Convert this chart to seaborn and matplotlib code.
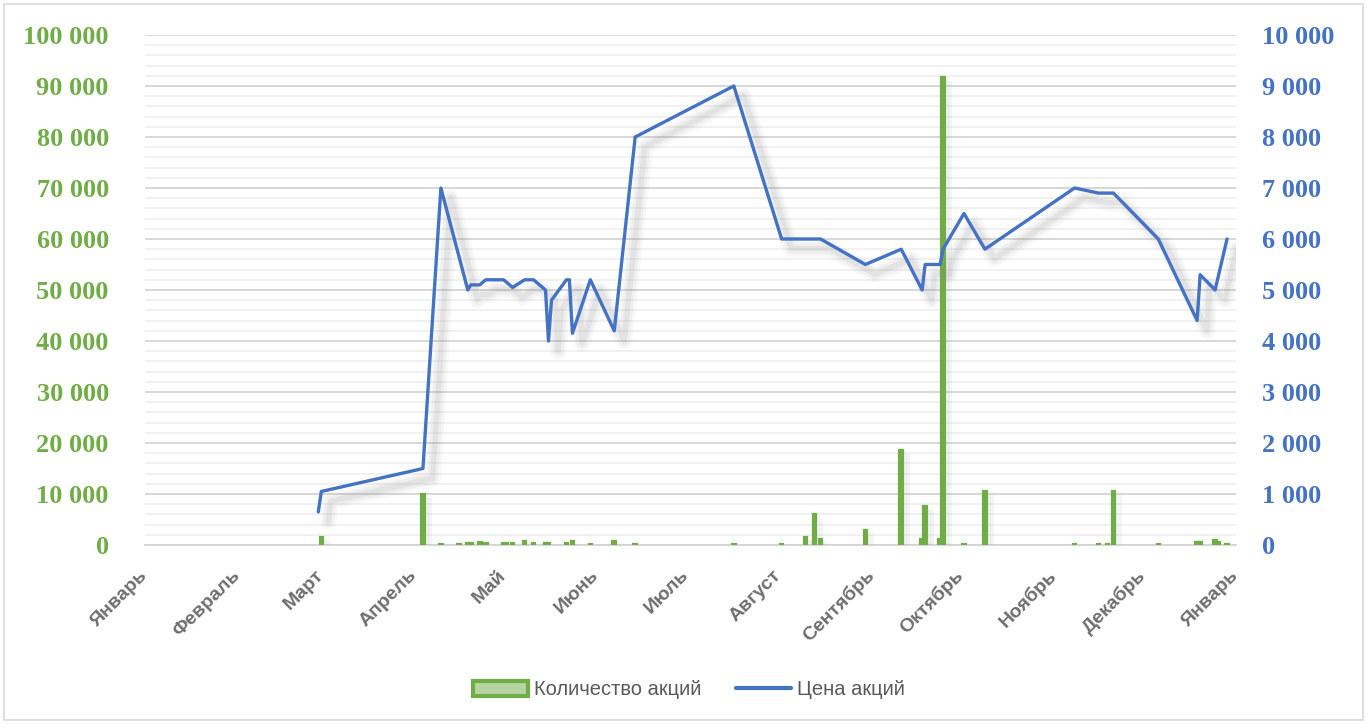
import numpy as np
import pandas as pd
import seaborn as sns
import matplotlib.pyplot as plt
import matplotlib.patheffects as pe
from matplotlib.ticker import MultipleLocator, FuncFormatter
from matplotlib.patches import Rectangle
from matplotlib.lines import Line2D

# Цена акций (правая ось)
price_dates = ['2021-02-28', '2021-03-01', '2021-04-04', '2021-04-10', '2021-04-19', '2021-04-20',
               '2021-04-23', '2021-04-25', '2021-05-01', '2021-05-04', '2021-05-08', '2021-05-11',
               '2021-05-15', '2021-05-16', '2021-05-17', '2021-05-22', '2021-05-23', '2021-05-24',
               '2021-05-30', '2021-06-07', '2021-06-14', '2021-07-17', '2021-08-02', '2021-08-15',
               '2021-08-30', '2021-09-11', '2021-09-18', '2021-09-19', '2021-09-24', '2021-09-25',
               '2021-10-02', '2021-10-09', '2021-11-08', '2021-11-16', '2021-11-21', '2021-12-06',
               '2021-12-19', '2021-12-20', '2021-12-25', '2021-12-29']
price_values = [650, 1050, 1500, 7000, 5000, 5100,
                5100, 5200, 5200, 5050, 5200, 5200,
                5000, 4000, 4800, 5200, 5200, 4150,
                5200, 4200, 8000, 9000, 6000, 6000,
                5500, 5800, 5000, 5500, 5500, 5800,
                6500, 5800, 7000, 6900, 6900, 6000,
                4400, 5300, 5000, 6000]

# Количество акций (левая ось)
qty_dates = ['2021-03-01', '2021-04-04', '2021-04-10', '2021-04-16', '2021-04-19', '2021-04-20',
             '2021-04-23', '2021-04-25', '2021-05-01', '2021-05-02', '2021-05-04', '2021-05-08',
             '2021-05-11', '2021-05-15', '2021-05-16', '2021-05-22', '2021-05-24', '2021-05-30',
             '2021-06-07', '2021-06-14', '2021-07-17', '2021-08-02', '2021-08-10', '2021-08-13',
             '2021-08-15', '2021-08-30', '2021-09-11', '2021-09-18', '2021-09-19', '2021-09-24',
             '2021-09-25', '2021-10-02', '2021-10-09', '2021-11-08', '2021-11-16', '2021-11-19',
             '2021-11-21', '2021-12-06', '2021-12-19', '2021-12-20', '2021-12-25', '2021-12-26',
             '2021-12-29']
qty_values = [1600, 10000, 200, 200, 300, 400,
              500, 300, 400, 300, 300, 800,
              300, 400, 300, 300, 800, 200,
              800, 200, 200, 200, 1600, 6000,
              1200, 3000, 18600, 1200, 7700, 1200,
              91700, 200, 10600, 200, 200, 200,
              10600, 200, 500, 500, 1000, 600,
              200]

month_labels = ['Январь', 'Февраль', 'Март', 'Апрель', 'Май', 'Июнь', 'Июль',
                'Август', 'Сентябрь', 'Октябрь', 'Ноябрь', 'Декабрь', 'Январь']

green = '#70AD47'
blue = '#4472C4'
grey_text = '#6f6f6f'

price_df = pd.DataFrame({'date': pd.to_datetime(price_dates), 'price': price_values})
qty_df = pd.DataFrame({'date': pd.to_datetime(qty_dates), 'qty': qty_values})

sns.set_style('white')
fig = plt.figure(figsize=(13.7, 7.24), dpi=100)
ax = fig.add_axes([0.1058, 0.2472, 0.7964, 0.7045])

# bars with a soft shadow
bars = ax.bar(qty_df['date'], qty_df['qty'], width=1.2, color=green, edgecolor=green,
              linewidth=1.6, zorder=3)
for b in bars:
    b.set_path_effects([pe.SimplePatchShadow(offset=(5, -3), shadow_rgbFace='#9a9a9a', alpha=0.10),
                        pe.SimplePatchShadow(offset=(3, -2), shadow_rgbFace='#9a9a9a', alpha=0.10),
                        pe.Normal()])

ax.set_ylim(0, 100000)
ax.yaxis.set_major_locator(MultipleLocator(10000))
ax.yaxis.set_minor_locator(MultipleLocator(2000))
ax.yaxis.set_major_formatter(FuncFormatter(lambda v, p: f'{v:,.0f}'.replace(',', ' ')))
ax.grid(axis='y', which='major', color='#d4d4d4', linewidth=1.3)
ax.grid(axis='y', which='minor', color='#ededed', linewidth=1.1)
ax.set_axisbelow(True)

ax.set_xlim(pd.Timestamp('2021-01-01'), pd.Timestamp('2022-01-01'))
month_ticks = pd.date_range('2021-01-01', '2022-01-01', freq='MS')
ax.set_xticks(month_ticks)
ax.set_xticklabels(month_labels, rotation=45, ha='right', va='center', rotation_mode='anchor',
                   color=grey_text, fontweight='bold', fontsize=14, family='Liberation Sans')
ax.tick_params(axis='x', direction='out', length=8, width=1.3, color='#d4d4d4', pad=12)
ax.tick_params(axis='y', which='both', length=0, pad=26)
for lab in ax.get_yticklabels():
    lab.set_color(green)
    lab.set_fontweight('bold')
    lab.set_fontsize(19)
    lab.set_family('Liberation Serif')

for s in ['top', 'right', 'left']:
    ax.spines[s].set_visible(False)
ax.spines['bottom'].set_color('#d4d4d4')
ax.spines['bottom'].set_linewidth(1.3)
ax.spines['bottom'].set_zorder(2)

# price line on the secondary axis, with a blurred-looking drop shadow
shadow = [pe.SimpleLineShadow(offset=(7, -7), shadow_color='#808080', alpha=0.05, linewidth=12),
          pe.SimpleLineShadow(offset=(7, -7), shadow_color='#808080', alpha=0.07, linewidth=8),
          pe.SimpleLineShadow(offset=(7, -7), shadow_color='#808080', alpha=0.10, linewidth=4),
          pe.Normal()]
ax2 = ax.twinx()
sns.lineplot(data=price_df, x='date', y='price', ax=ax2, color=blue, linewidth=2.4,
             legend=False, path_effects=shadow)
ax2.set_ylim(0, 10000)
ax2.yaxis.set_major_locator(MultipleLocator(1000))
ax2.yaxis.set_major_formatter(FuncFormatter(lambda v, p: f'{v:,.0f}'.replace(',', ' ')))
ax2.tick_params(axis='y', length=0, pad=19)
for lab in ax2.get_yticklabels():
    lab.set_color(blue)
    lab.set_fontweight('bold')
    lab.set_fontsize(19)
    lab.set_family('Liberation Serif')
ax2.set_ylabel('')
ax2.set_xlabel('')
ax.set_xlabel('')
ax.set_ylabel('')
for s in ['top', 'right', 'left', 'bottom']:
    ax2.spines[s].set_visible(False)
ax2.set_xlim(pd.Timestamp('2021-01-01'), pd.Timestamp('2022-01-01'))

# legend
handles = [Rectangle((0, 0), 1, 1, facecolor='#b5d4a0', edgecolor=green, linewidth=3),
           Line2D([0], [0], color=blue, linewidth=3)]
leg = fig.legend(handles, ['Количество акций', 'Цена акций'], loc='center',
                 bbox_to_anchor=(0.503, 0.047), ncol=2, frameon=False,
                 prop={'family': 'Liberation Sans', 'size': 14.5},
                 handlelength=2.7, handleheight=0.8, columnspacing=1.75, handletextpad=0.3)
for t in leg.get_texts():
    t.set_color('#595959')

# outer chart frame
fig.patches.append(Rectangle((0.003, 0.005), 0.992, 0.99, transform=fig.transFigure,
                             fill=False, edgecolor='#d9d9d9', linewidth=1.2))

fig.savefig('out.png', dpi=100)
